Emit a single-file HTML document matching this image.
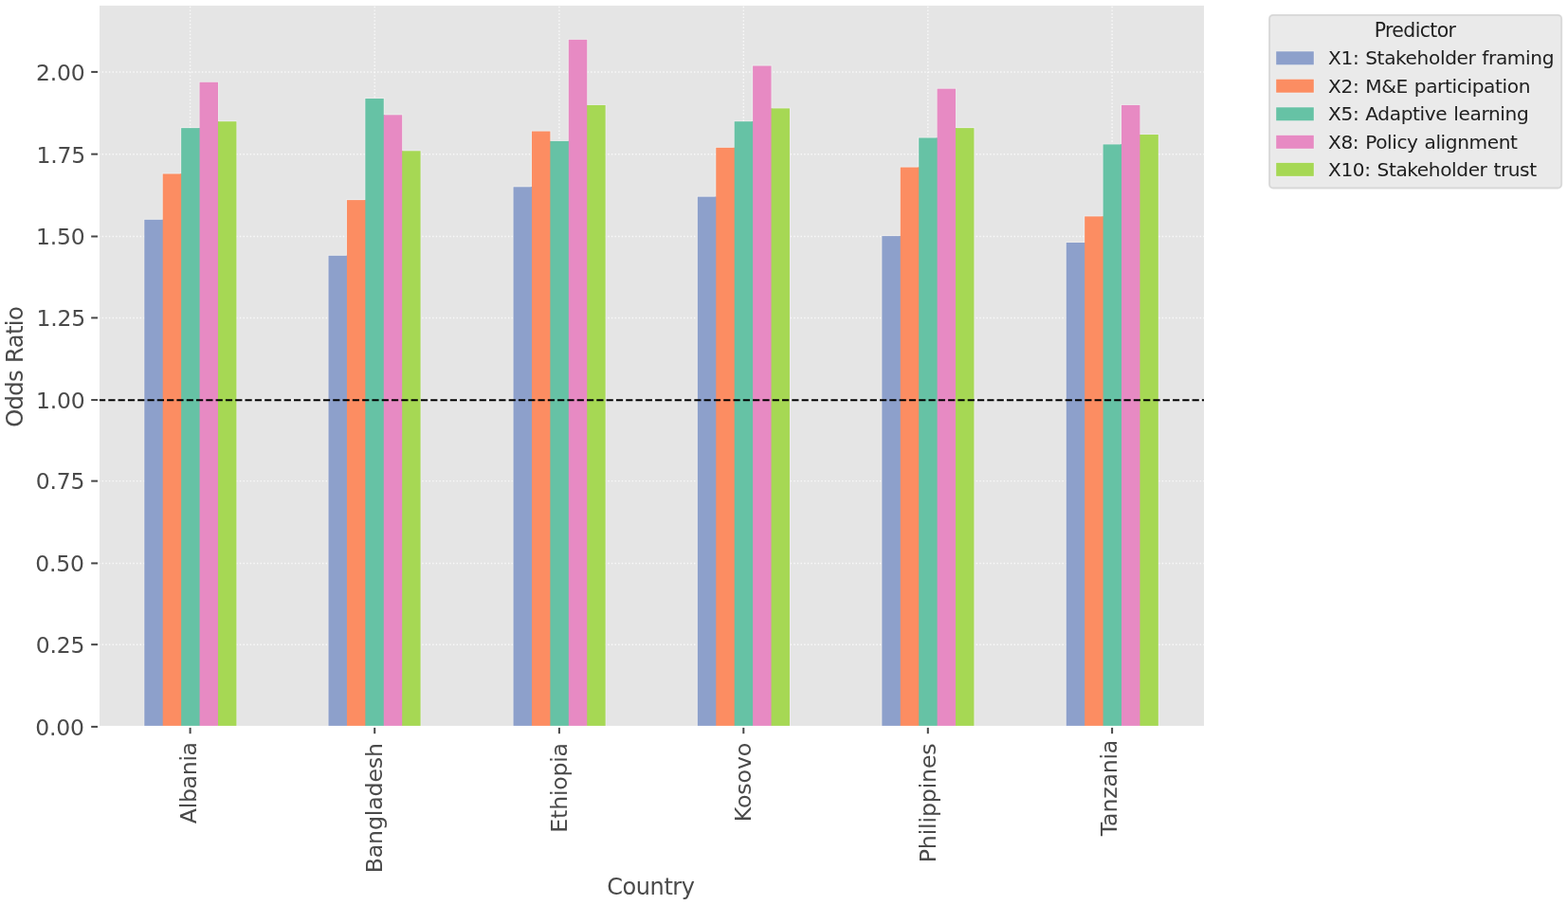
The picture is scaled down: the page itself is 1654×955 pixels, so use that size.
<!DOCTYPE html>
<html lang="en">
<head>
<meta charset="utf-8">
<title>Odds Ratio by Country and Predictor</title>
<style>
html,body{margin:0;padding:0;background:#ffffff;}
body{width:1654px;height:955px;overflow:hidden;font-family:'DejaVu Sans','Liberation Sans',sans-serif;}
svg{display:block;}
</style>
</head>
<body>
<svg width="1654" height="955" viewBox="0 0 1654 955" font-family="'DejaVu Sans','Liberation Sans',sans-serif">
<rect x="0" y="0" width="1654" height="955" fill="#ffffff"/>
<g id="axes">
<rect x="104.0" y="4.9" width="1167.0" height="762.0" fill="#e5e5e5"/>
<g id="grid" stroke="#ffffff" stroke-width="1.45" stroke-dasharray="1.45 2.18" stroke-opacity="0.75" fill="none">
<line x1="200.60" y1="766.9" x2="200.60" y2="4.9"/>
<line x1="395.20" y1="766.9" x2="395.20" y2="4.9"/>
<line x1="589.90" y1="766.9" x2="589.90" y2="4.9"/>
<line x1="784.30" y1="766.9" x2="784.30" y2="4.9"/>
<line x1="978.80" y1="766.9" x2="978.80" y2="4.9"/>
<line x1="1173.10" y1="766.9" x2="1173.10" y2="4.9"/>
<line x1="104.0" y1="766.90" x2="1271.0" y2="766.90"/>
<line x1="104.0" y1="680.15" x2="1271.0" y2="680.15"/>
<line x1="104.0" y1="594.40" x2="1271.0" y2="594.40"/>
<line x1="104.0" y1="507.60" x2="1271.0" y2="507.60"/>
<line x1="104.0" y1="422.05" x2="1271.0" y2="422.05"/>
<line x1="104.0" y1="335.40" x2="1271.0" y2="335.40"/>
<line x1="104.0" y1="249.50" x2="1271.0" y2="249.50"/>
<line x1="104.0" y1="162.65" x2="1271.0" y2="162.65"/>
<line x1="104.0" y1="75.90" x2="1271.0" y2="75.90"/>
</g>
<g id="bar-edges" fill="none" stroke="#f0f0f0" stroke-width="2" stroke-opacity="0.6">
<rect x="152.30" y="231.83" width="19.42" height="535.17"/>
<rect x="346.50" y="269.82" width="19.42" height="497.18"/>
<rect x="541.55" y="197.29" width="19.42" height="569.71"/>
<rect x="735.85" y="207.65" width="19.42" height="559.35"/>
<rect x="930.35" y="249.10" width="19.42" height="517.90"/>
<rect x="1124.75" y="256.01" width="19.42" height="510.99"/>
<rect x="171.72" y="183.47" width="19.42" height="583.53"/>
<rect x="365.92" y="211.11" width="19.42" height="555.89"/>
<rect x="560.97" y="138.57" width="19.42" height="628.43"/>
<rect x="755.27" y="155.84" width="19.42" height="611.16"/>
<rect x="949.77" y="176.57" width="19.42" height="590.43"/>
<rect x="1144.17" y="228.38" width="19.42" height="538.62"/>
<rect x="191.14" y="135.12" width="19.42" height="631.88"/>
<rect x="385.34" y="104.03" width="19.42" height="662.97"/>
<rect x="580.39" y="148.93" width="19.42" height="618.07"/>
<rect x="774.69" y="128.21" width="19.42" height="638.79"/>
<rect x="969.19" y="145.48" width="19.42" height="621.52"/>
<rect x="1163.59" y="152.39" width="19.42" height="614.61"/>
<rect x="210.56" y="86.76" width="19.42" height="680.24"/>
<rect x="404.76" y="121.30" width="19.42" height="645.70"/>
<rect x="599.81" y="41.86" width="19.42" height="725.14"/>
<rect x="794.11" y="69.49" width="19.42" height="697.51"/>
<rect x="988.61" y="93.67" width="19.42" height="673.33"/>
<rect x="1183.01" y="110.94" width="19.42" height="656.06"/>
<rect x="229.98" y="128.21" width="19.42" height="638.79"/>
<rect x="424.18" y="159.30" width="19.42" height="607.70"/>
<rect x="619.23" y="110.94" width="19.42" height="656.06"/>
<rect x="813.53" y="114.39" width="19.42" height="652.61"/>
<rect x="1008.03" y="135.12" width="19.42" height="631.88"/>
<rect x="1202.43" y="142.03" width="19.42" height="624.97"/>
</g>
<g id="bars">
<rect x="170.72" y="231.83" width="2" height="535.17" fill="#8da0cb"/>
<rect x="152.30" y="231.83" width="19.42" height="535.17" fill="#8da0cb"/>
<rect x="364.92" y="269.82" width="2" height="497.18" fill="#8da0cb"/>
<rect x="346.50" y="269.82" width="19.42" height="497.18" fill="#8da0cb"/>
<rect x="559.97" y="197.29" width="2" height="569.71" fill="#8da0cb"/>
<rect x="541.55" y="197.29" width="19.42" height="569.71" fill="#8da0cb"/>
<rect x="754.27" y="207.65" width="2" height="559.35" fill="#8da0cb"/>
<rect x="735.85" y="207.65" width="19.42" height="559.35" fill="#8da0cb"/>
<rect x="948.77" y="249.10" width="2" height="517.90" fill="#8da0cb"/>
<rect x="930.35" y="249.10" width="19.42" height="517.90" fill="#8da0cb"/>
<rect x="1143.17" y="256.01" width="2" height="510.99" fill="#8da0cb"/>
<rect x="1124.75" y="256.01" width="19.42" height="510.99" fill="#8da0cb"/>
<rect x="190.14" y="183.47" width="2" height="583.53" fill="#fc8d62"/>
<rect x="171.72" y="183.47" width="19.42" height="583.53" fill="#fc8d62"/>
<rect x="384.34" y="211.11" width="2" height="555.89" fill="#fc8d62"/>
<rect x="365.92" y="211.11" width="19.42" height="555.89" fill="#fc8d62"/>
<rect x="579.39" y="148.93" width="2" height="618.07" fill="#fc8d62"/>
<rect x="560.97" y="138.57" width="19.42" height="628.43" fill="#fc8d62"/>
<rect x="773.69" y="155.84" width="2" height="611.16" fill="#fc8d62"/>
<rect x="755.27" y="155.84" width="19.42" height="611.16" fill="#fc8d62"/>
<rect x="968.19" y="176.57" width="2" height="590.43" fill="#fc8d62"/>
<rect x="949.77" y="176.57" width="19.42" height="590.43" fill="#fc8d62"/>
<rect x="1162.59" y="228.38" width="2" height="538.62" fill="#fc8d62"/>
<rect x="1144.17" y="228.38" width="19.42" height="538.62" fill="#fc8d62"/>
<rect x="209.56" y="135.12" width="2" height="631.88" fill="#66c2a5"/>
<rect x="191.14" y="135.12" width="19.42" height="631.88" fill="#66c2a5"/>
<rect x="403.76" y="121.30" width="2" height="645.70" fill="#66c2a5"/>
<rect x="385.34" y="104.03" width="19.42" height="662.97" fill="#66c2a5"/>
<rect x="598.81" y="148.93" width="2" height="618.07" fill="#66c2a5"/>
<rect x="580.39" y="148.93" width="19.42" height="618.07" fill="#66c2a5"/>
<rect x="793.11" y="128.21" width="2" height="638.79" fill="#66c2a5"/>
<rect x="774.69" y="128.21" width="19.42" height="638.79" fill="#66c2a5"/>
<rect x="987.61" y="145.48" width="2" height="621.52" fill="#66c2a5"/>
<rect x="969.19" y="145.48" width="19.42" height="621.52" fill="#66c2a5"/>
<rect x="1182.01" y="152.39" width="2" height="614.61" fill="#66c2a5"/>
<rect x="1163.59" y="152.39" width="19.42" height="614.61" fill="#66c2a5"/>
<rect x="228.98" y="128.21" width="2" height="638.79" fill="#e78ac3"/>
<rect x="210.56" y="86.76" width="19.42" height="680.24" fill="#e78ac3"/>
<rect x="423.18" y="159.30" width="2" height="607.70" fill="#e78ac3"/>
<rect x="404.76" y="121.30" width="19.42" height="645.70" fill="#e78ac3"/>
<rect x="618.23" y="110.94" width="2" height="656.06" fill="#e78ac3"/>
<rect x="599.81" y="41.86" width="19.42" height="725.14" fill="#e78ac3"/>
<rect x="812.53" y="114.39" width="2" height="652.61" fill="#e78ac3"/>
<rect x="794.11" y="69.49" width="19.42" height="697.51" fill="#e78ac3"/>
<rect x="1007.03" y="135.12" width="2" height="631.88" fill="#e78ac3"/>
<rect x="988.61" y="93.67" width="19.42" height="673.33" fill="#e78ac3"/>
<rect x="1201.43" y="142.03" width="2" height="624.97" fill="#e78ac3"/>
<rect x="1183.01" y="110.94" width="19.42" height="656.06" fill="#e78ac3"/>
<rect x="229.98" y="128.21" width="19.42" height="638.79" fill="#a6d854"/>
<rect x="424.18" y="159.30" width="19.42" height="607.70" fill="#a6d854"/>
<rect x="619.23" y="110.94" width="19.42" height="656.06" fill="#a6d854"/>
<rect x="813.53" y="114.39" width="19.42" height="652.61" fill="#a6d854"/>
<rect x="1008.03" y="135.12" width="19.42" height="631.88" fill="#a6d854"/>
<rect x="1202.43" y="142.03" width="19.42" height="624.97" fill="#a6d854"/>
</g>
<line x1="104.0" y1="422.20" x2="1271.0" y2="422.20" stroke="#000000" stroke-width="2.1" stroke-dasharray="7.2 3.1"/>
<rect x="104.0" y="4.9" width="1167.0" height="762.0" fill="none" stroke="#ffffff" stroke-width="2"/>
</g>
<g id="yticks" font-size="23.5" fill="#4a4a4a">
<line x1="103.0" y1="766.90" x2="96.2" y2="766.90" stroke="#474747" stroke-width="2.0"/>
<text x="37.23" y="775.75" letter-spacing="-0.232">0.00</text>
<line x1="103.0" y1="680.15" x2="96.2" y2="680.15" stroke="#474747" stroke-width="2.0"/>
<text x="37.72" y="689.00" letter-spacing="-0.232">0.25</text>
<line x1="103.0" y1="594.40" x2="96.2" y2="594.40" stroke="#474747" stroke-width="2.0"/>
<text x="37.23" y="603.25" letter-spacing="-0.232">0.50</text>
<line x1="103.0" y1="507.60" x2="96.2" y2="507.60" stroke="#474747" stroke-width="2.0"/>
<text x="37.72" y="516.45" letter-spacing="-0.232">0.75</text>
<line x1="103.0" y1="422.05" x2="96.2" y2="422.05" stroke="#474747" stroke-width="2.0"/>
<text x="38.03" y="430.90" letter-spacing="-0.232">1.00</text>
<line x1="103.0" y1="335.40" x2="96.2" y2="335.40" stroke="#474747" stroke-width="2.0"/>
<text x="38.52" y="344.25" letter-spacing="-0.232">1.25</text>
<line x1="103.0" y1="249.50" x2="96.2" y2="249.50" stroke="#474747" stroke-width="2.0"/>
<text x="38.03" y="258.35" letter-spacing="-0.232">1.50</text>
<line x1="103.0" y1="162.65" x2="96.2" y2="162.65" stroke="#474747" stroke-width="2.0"/>
<text x="38.52" y="171.50" letter-spacing="-0.232">1.75</text>
<line x1="103.0" y1="75.90" x2="96.2" y2="75.90" stroke="#474747" stroke-width="2.0"/>
<text x="38.03" y="84.75" letter-spacing="-0.232">2.00</text>
</g>
<g id="xticks" font-size="23.7" fill="#4a4a4a">
<line x1="200.60" y1="767.9" x2="200.60" y2="774.2" stroke="#474747" stroke-width="2.0"/>
<text transform="translate(206.55,869.19) rotate(-90)" letter-spacing="-0.353">Albania</text>
<line x1="395.20" y1="767.9" x2="395.20" y2="774.2" stroke="#474747" stroke-width="2.0"/>
<text transform="translate(403.25,921.33) rotate(-90)" letter-spacing="-0.171">Bangladesh</text>
<line x1="589.90" y1="767.9" x2="589.90" y2="774.2" stroke="#474747" stroke-width="2.0"/>
<text transform="translate(597.95,878.63) rotate(-90)" letter-spacing="-0.244">Ethiopia</text>
<line x1="784.30" y1="767.9" x2="784.30" y2="774.2" stroke="#474747" stroke-width="2.0"/>
<text transform="translate(792.35,867.33) rotate(-90)" letter-spacing="-0.116">Kosovo</text>
<line x1="978.80" y1="767.9" x2="978.80" y2="774.2" stroke="#474747" stroke-width="2.0"/>
<text transform="translate(986.85,910.33) rotate(-90)" letter-spacing="-0.164">Philippines</text>
<line x1="1173.10" y1="767.9" x2="1173.10" y2="774.2" stroke="#474747" stroke-width="2.0"/>
<text transform="translate(1178.45,882.23) rotate(-90)" letter-spacing="-0.223">Tanzania</text>
</g>
<g id="labels" fill="#4a4a4a">
<text x="640.25" y="944.3" font-size="24.0" letter-spacing="-0.430">Country</text>
<text transform="translate(24.0,450.86) rotate(-90)" font-size="24.2" letter-spacing="-0.595" word-spacing="0.8">Odds Ratio</text>
</g>
<g id="legend">
<rect x="1339.0" y="15.8" width="308.20000000000005" height="182.7" rx="4" ry="4" fill="#e5e5e5" fill-opacity="0.8" stroke="#cccccc" stroke-opacity="0.7" stroke-width="1.8"/>
<g fill="#202020">
<text x="1449.70" y="38.7" font-size="20.4" letter-spacing="-0.599">Predictor</text>
<rect x="1346.2" y="54.30" width="39.6" height="14.0" fill="#8da0cb" stroke="#f0f0f0" stroke-width="2" stroke-opacity="0.6" paint-order="stroke"/>
<text x="1401.10" y="68.40" font-size="20.1" letter-spacing="-0.368" word-spacing="0.9">X1: Stakeholder framing</text>
<rect x="1346.2" y="83.70" width="39.6" height="14.0" fill="#fc8d62" stroke="#f0f0f0" stroke-width="2" stroke-opacity="0.6" paint-order="stroke"/>
<text x="1401.10" y="97.80" font-size="20.1" letter-spacing="-0.364" word-spacing="0.9">X2: M&amp;E participation</text>
<rect x="1346.2" y="113.30" width="39.6" height="14.0" fill="#66c2a5" stroke="#f0f0f0" stroke-width="2" stroke-opacity="0.6" paint-order="stroke"/>
<text x="1401.10" y="127.40" font-size="20.1" letter-spacing="-0.359" word-spacing="0.9">X5: Adaptive learning</text>
<rect x="1346.2" y="142.80" width="39.6" height="14.0" fill="#e78ac3" stroke="#f0f0f0" stroke-width="2" stroke-opacity="0.6" paint-order="stroke"/>
<text x="1401.10" y="156.90" font-size="20.1" letter-spacing="-0.392" word-spacing="0.9">X8: Policy alignment</text>
<rect x="1346.2" y="171.85" width="39.6" height="14.0" fill="#a6d854" stroke="#f0f0f0" stroke-width="2" stroke-opacity="0.6" paint-order="stroke"/>
<text x="1401.10" y="185.95" font-size="20.1" letter-spacing="-0.388" word-spacing="0.9">X10: Stakeholder trust</text>
</g></g>
</svg>
</body>
</html>
